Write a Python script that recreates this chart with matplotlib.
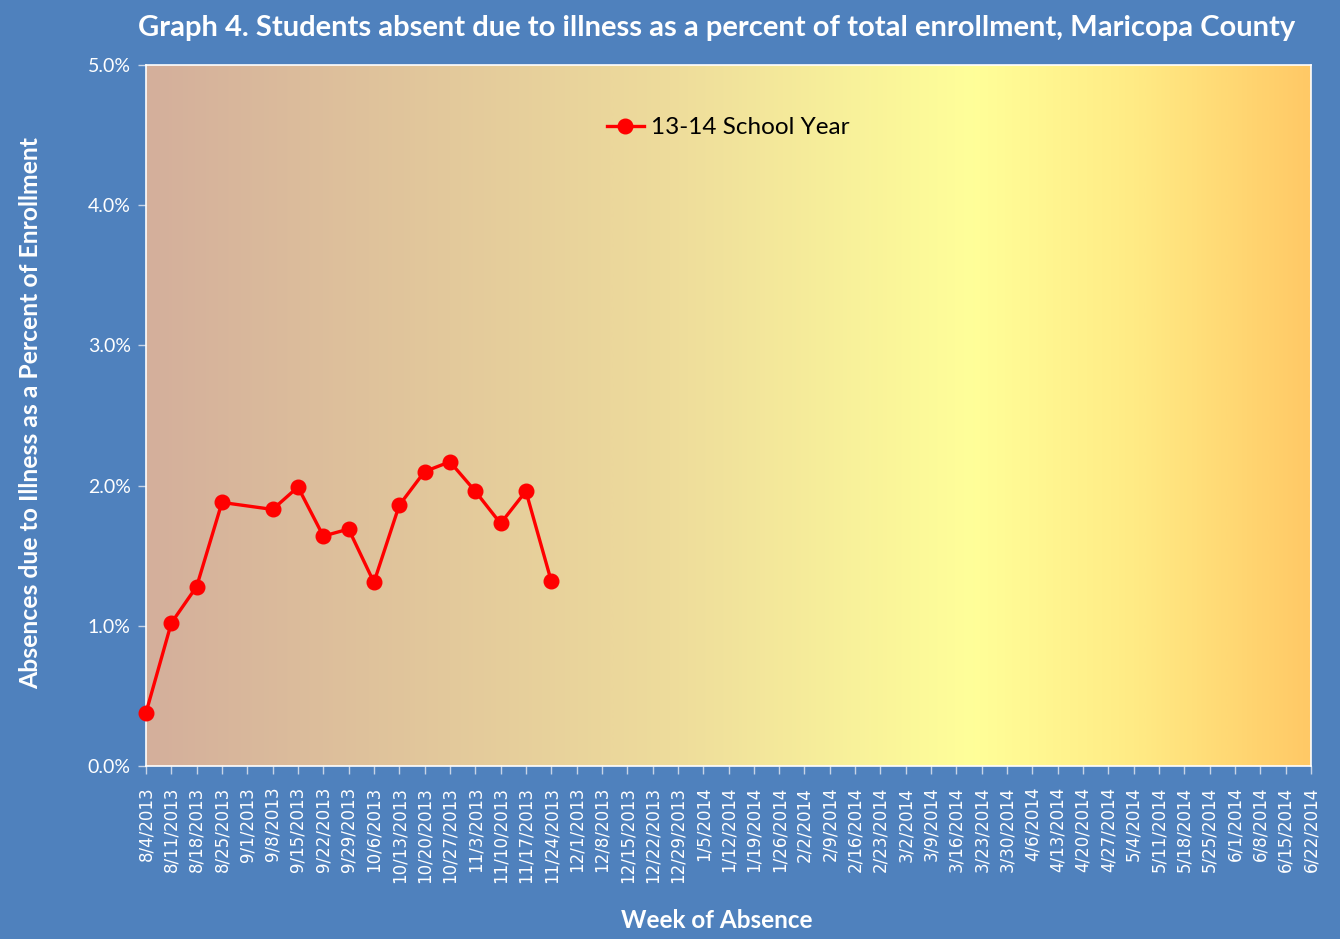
import matplotlib
matplotlib.use("Agg")
import matplotlib.pyplot as plt
import numpy as np
from matplotlib.colors import LinearSegmentedColormap

weeks = ["8/4/2013", "8/11/2013", "8/18/2013", "8/25/2013", "9/1/2013", "9/8/2013",
         "9/15/2013", "9/22/2013", "9/29/2013", "10/6/2013", "10/13/2013", "10/20/2013",
         "10/27/2013", "11/3/2013", "11/10/2013", "11/17/2013", "11/24/2013", "12/1/2013",
         "12/8/2013", "12/15/2013", "12/22/2013", "12/29/2013", "1/5/2014", "1/12/2014",
         "1/19/2014", "1/26/2014", "2/2/2014", "2/9/2014", "2/16/2014", "2/23/2014",
         "3/2/2014", "3/9/2014", "3/16/2014", "3/23/2014", "3/30/2014", "4/6/2014",
         "4/13/2014", "4/20/2014", "4/27/2014", "5/4/2014", "5/11/2014", "5/18/2014",
         "5/25/2014", "6/1/2014", "6/8/2014", "6/15/2014", "6/22/2014"]
# percent of enrollment; None = no data
values_1314 = [0.38, 1.02, 1.28, 1.88, None, 1.83, 1.99, 1.64, 1.69, 1.31, 1.86, 2.10,
               2.17, 1.96, 1.73, 1.96, 1.32]
series_name = "13-14 School Year"
yticks = [0.0, 1.0, 2.0, 3.0, 4.0, 5.0]

BLUE = "#4F81BD"
plt.rcParams['font.family'] = ['DejaVu Sans']
plt.rcParams['xtick.labelsize'] = 12
LATO = ['Lato', 'DejaVu Sans']

fig = plt.figure(figsize=(13.4, 9.39), dpi=100, facecolor=BLUE)
W, H = 1340, 939
left, right, top, bottom = 146, 1311, 65, 766
ax = fig.add_axes([left / W, 1 - bottom / H, (right - left) / W, (bottom - top) / H])
ax.set_facecolor("none")

n = len(weeks)
ax.set_xlim(0, n - 1)
ax.set_ylim(0, 5)

cmap = LinearSegmentedColormap.from_list("bg", [
    (0.0, "#D4AF9B"), (0.45, "#EEDC9C"), (0.71, "#FFFF99"), (0.85, "#FFEB85"), (1.0, "#FFC966")])
grad = np.linspace(0, 1, 512).reshape(1, -1)
ax.imshow(grad, cmap=cmap, aspect="auto", extent=[0, 1, 0, 1], transform=ax.transAxes,
          zorder=0, interpolation="bilinear")

xs = [i for i, v in enumerate(values_1314) if v is not None]
ys = [v for v in values_1314 if v is not None]
ax.plot(xs, ys, color="#FF0000", lw=2.4, marker="o", markersize=10.5, label=series_name,
        zorder=3, clip_on=False)

ax.set_xticks(range(n))
ax.set_xticklabels(weeks, rotation=90, color="white", fontsize=12)
ax.set_yticks(yticks)
ax.set_yticklabels([f"{v:.1f}%" for v in yticks], color="white", fontsize=14, family=LATO)
ax.tick_params(axis="x", colors="#C8D4E6", length=6, width=1, labelcolor="white", pad=9)
ax.tick_params(axis="y", colors="#C8D4E6", length=6, width=1, labelcolor="white", pad=5)
for s in ax.spines.values():
    s.set_color("white")
    s.set_linewidth(1.2)

fig.text(0.535, 1 - 28 / H, "Graph 4. Students absent due to illness as a percent of total enrollment, Maricopa County",
         color="white", fontsize=21, fontweight="bold", ha="center", va="center", family=LATO)
fig.text(717 / W, 1 - 921 / H, "Week of Absence", color="white", fontsize=17.5, fontweight="bold",
         ha="center", va="center", family=LATO)
fig.text(31 / W, 1 - 413 / H, "Absences due to Illness as a Percent of Enrollment", color="white",
         fontsize=17.8, fontweight="bold", ha="center", va="center", rotation=90, family=LATO)

leg = ax.legend(loc="upper left", bbox_to_anchor=(0.377, 0.957), frameon=False,
                prop={'family': LATO, 'size': 17.5}, handlelength=1.5, handletextpad=0.3)

fig.savefig("out.png", dpi=100, facecolor=BLUE)
